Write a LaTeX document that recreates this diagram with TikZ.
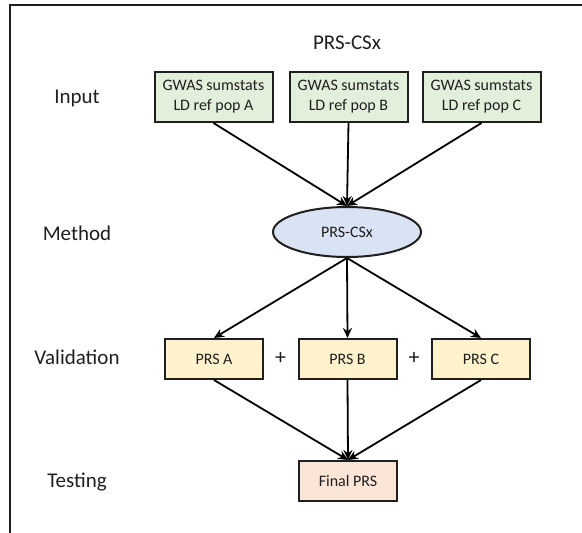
\documentclass[tikz,border=0pt]{standalone}
\usepackage{fontspec}
\setmainfont{Carlito}
\usetikzlibrary{arrows.meta,shapes.geometric}
\definecolor{inbox}{HTML}{E2EFDA}
\definecolor{methfill}{HTML}{DAE3F3}
\definecolor{valfill}{HTML}{FFF2CC}
\definecolor{finfill}{HTML}{FBE5D6}
\definecolor{edge}{HTML}{1F1F1F}
\definecolor{txt}{HTML}{1F1F1F}
\begin{document}
\begin{tikzpicture}[x=1pt,y=-1pt,
  box/.style={draw=edge,line width=2pt,inner sep=0pt,minimum height=50pt,align=center,font=\fontsize{16}{20}\selectfont,text=txt},
  inbx/.style={box,fill=inbox,minimum width=118pt},
  valbx/.style={box,fill=valfill,minimum width=98pt,minimum height=40pt},
  finbx/.style={box,fill=finfill,minimum width=98pt,minimum height=40pt},
  meth/.style={ellipse,draw=edge,line width=2pt,fill=methfill,inner sep=0pt,minimum width=148pt,minimum height=50pt,font=\fontsize{16}{20}\selectfont,text=txt},
  lbl/.style={font=\fontsize{21}{24}\selectfont,text=txt},
  plus/.style={font=\fontsize{22}{24}\selectfont,text=txt},
  conn/.style={draw=black,line width=1.8pt,-{Stealth[length=10pt,width=9pt]}}
]
\useasboundingbox (0,0) rectangle (582,533);
\draw[line width=1.6pt,edge] (582,5) -- (10,5) -- (10,533);

\node[lbl] (title) at (347,43) {PRS-CSx};
\node[lbl] (linput) at (77,98) {Input};
\node[lbl] (lmethod) at (77,233) {Method};
\node[lbl] (lval) at (77,357) {Validation};
\node[lbl] (ltest) at (77,482) {Testing};

\node[inbx] (ia) at (213.5,97) {GWAS sumstats\\LD ref pop A};
\node[inbx] (ib) at (348.5,97) {GWAS sumstats\\LD ref pop B};
\node[inbx] (ic) at (481.5,97) {GWAS sumstats\\LD ref pop C};

\node[meth] (m) at (347,232) {PRS-CSx};

\node[valbx] (pa) at (214,359) {PRS A};
\node[valbx] (pb) at (347.5,359) {PRS B};
\node[valbx] (pc) at (481,359) {PRS C};
\node[plus] (plus1) at (280.5,358) {+};
\node[plus] (plus2) at (414,358) {+};

\node[finbx] (f) at (348,481) {Final PRS};

\draw[conn] (ia.south) -- (m.north);
\draw[conn] (ib.south) -- (m.north);
\draw[conn] (ic.south) -- (m.north);
\draw[conn] (m.south) -- (pa.north);
\draw[conn] (m.south) -- (pb.north);
\draw[conn] (m.south) -- (pc.north);
\draw[conn] (pa.south) -- (f.north);
\draw[conn] (pb.south) -- (f.north);
\draw[conn] (pc.south) -- (f.north);
\end{tikzpicture}
\end{document}
